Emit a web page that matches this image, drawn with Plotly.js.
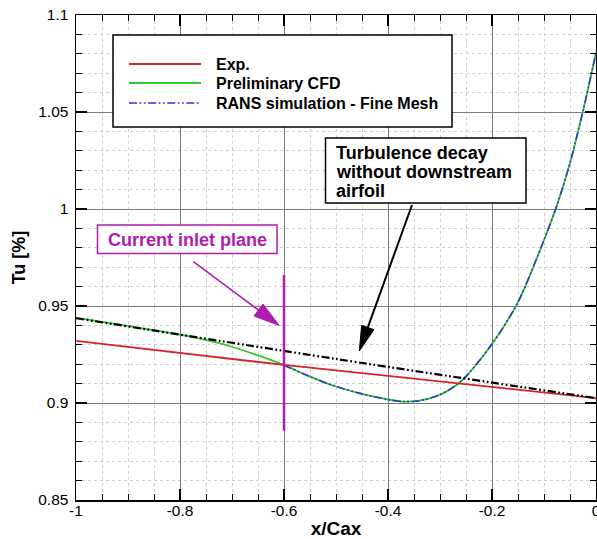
<!DOCTYPE html>
<html>
<head>
<meta charset="utf-8">
<script src="https://cdn.plot.ly/plotly-3.0.1.min.js"></script>
<style>html,body{margin:0;padding:0;background:#fff;}#chart{width:597px;height:539px;}</style>
</head>
<body>
<div id="chart"></div>
<script>
// ---------------- data ----------------
const expX = [-1, -0.8, -0.6, -0.4, -0.2, 0];
const expY = [0.9320, 0.9258, 0.9196, 0.9140, 0.9083, 0.9025];

const cfdX = [-1, -0.95, -0.9, -0.85, -0.8, -0.75, -0.7, -0.65, -0.6, -0.55, -0.5, -0.45, -0.4, -0.37, -0.34, -0.3, -0.26, -0.2, -0.15, -0.1, -0.075, -0.05, -0.025, 0];
const cfdY = [0.9440, 0.9418, 0.9397, 0.9375, 0.9352, 0.9325, 0.9290, 0.9245, 0.9195, 0.9136, 0.9085, 0.9047, 0.9018, 0.9007, 0.9012, 0.9043, 0.9111, 0.9304, 0.9520, 0.9840, 1.0020, 1.0237, 1.0506, 1.0805];

const ransX = [-0.6, -0.55, -0.5, -0.45, -0.4, -0.37, -0.34, -0.3, -0.26, -0.2, -0.15, -0.1, -0.075, -0.05, -0.025, 0];
const ransY = [0.9195, 0.9136, 0.9085, 0.9047, 0.9018, 0.9007, 0.9012, 0.9043, 0.9111, 0.9304, 0.9520, 0.9840, 1.0020, 1.0237, 1.0506, 1.0805];

const decayX = [-1, -0.5, 0];
const decayY = [0.9437, 0.9227, 0.9025];

const inletX = [-0.6, -0.6];
const inletY = [0.8857, 0.9660];

const xTickVals = [-1, -0.8, -0.6, -0.4, -0.2, 0];
const xTickText = ['-1', '-0.8', '-0.6', '-0.4', '-0.2', '0'];
const yTickVals = [0.85, 0.9, 0.95, 1, 1.05, 1.1];
const yTickText = ['0.85', '0.9', '0.95', '1', '1.05', '1.1'];

const seriesNames = ['Exp.', 'Preliminary CFD', 'RANS simulation - Fine Mesh'];
const decayLabel = ['Turbulence decay', 'without downstream', 'airfoil'];
const inletLabel = 'Current inlet plane';

// ---------------- style ----------------
const W = 597, H = 539;
const M = {l: 76, r: 1, t: 15, b: 39};
const PW = W - M.l - M.r, PH = H - M.t - M.b;
const fx = p => (p - M.l) / PW;          // pixel -> paper x
const fy = p => (H - M.b - p) / PH;      // pixel -> paper y
const FONT = '"Liberation Sans", Arial, Helvetica, sans-serif';
const RED = '#d8232a', GREEN = '#2ccc2c', BLUE = '#3535cf', BLACK = '#000000', MAG = '#b01cb0';
const DDD = '8px,2.5px,1.8px,2.5px,1.8px,2.5px';

const traces = [
  {x: cfdX, y: cfdY, name: seriesNames[1], mode: 'lines', line: {color: GREEN, width: 1.8, shape: 'spline', smoothing: 0.8}, showlegend: false},
  {x: ransX, y: ransY, name: seriesNames[2], mode: 'lines', line: {color: BLUE, width: 1.6, dash: DDD, shape: 'spline', smoothing: 0.8}, showlegend: false},
  {x: expX, y: expY, name: seriesNames[0], mode: 'lines', line: {color: RED, width: 1.8}, showlegend: false},
  {x: decayX, y: decayY, name: decayLabel.join(' '), mode: 'lines', line: {color: BLACK, width: 2.2, dash: DDD, shape: 'spline'}, showlegend: false},
  {x: inletX, y: inletY, name: inletLabel, mode: 'lines', line: {color: MAG, width: 2.5}, showlegend: false}
];

function rect(x0, y0, x1, y1, color, lw) {
  return {type: 'rect', xref: 'paper', yref: 'paper', x0: fx(x0), x1: fx(x1), y0: fy(y1), y1: fy(y0),
          line: {color: color, width: lw}, fillcolor: 'white', layer: 'above'};
}
function seg(x0, y0, x1, y1, color, lw, dash) {
  return {type: 'line', xref: 'paper', yref: 'paper', x0: fx(x0), x1: fx(x1), y0: fy(y0), y1: fy(y1),
          line: {color: color, width: lw, dash: dash || 'solid'}, layer: 'above'};
}
function arrow(sx, sy, tx, ty, L, Wd, color, lw) {
  const dx = tx - sx, dy = ty - sy, len = Math.hypot(dx, dy);
  const ux = dx / len, uy = dy / len;
  const bx = tx - ux * L, by = ty - uy * L;
  const nx = -uy, ny = ux;
  const p1 = [bx + nx * Wd / 2, by + ny * Wd / 2], p2 = [bx - nx * Wd / 2, by - ny * Wd / 2];
  const path = 'M' + fx(tx) + ',' + fy(ty) + 'L' + fx(p1[0]) + ',' + fy(p1[1]) + 'L' + fx(p2[0]) + ',' + fy(p2[1]) + 'Z';
  return [seg(sx, sy, bx + ux * 3, by + uy * 3, color, lw),
          {type: 'path', xref: 'paper', yref: 'paper', path: path, fillcolor: color, line: {color: color, width: 1}, layer: 'above'}];
}

const shapes = [
  rect(113, 35, 452, 127, BLACK, 1.5),
  seg(129, 64, 201, 64, RED, 1.8),
  seg(129, 83, 201, 83, GREEN, 1.8),
  seg(129, 103, 201, 103, BLUE, 1.6, DDD),
  rect(325.5, 138, 526, 203, BLACK, 1.5),
  rect(97.5, 225, 277, 253.5, MAG, 1.5),
  ...arrow(412, 205, 359.3, 351, 25, 13, BLACK, 2),
  ...arrow(193.3, 261.7, 279.3, 325.5, 26, 15, MAG, 1.5)
];

function txt(s, x, y, size, color, anchor) {
  return {text: s, xref: 'paper', yref: 'paper', x: fx(x), y: fy(y), xanchor: anchor || 'left', yanchor: 'middle',
          showarrow: false, font: {family: FONT, size: size, color: color, weight: 'bold'}};
}
const annotations = [
  txt(seriesNames[0], 214, 64.5, 16, BLACK),
  txt(seriesNames[1], 214, 83.5, 16, BLACK),
  txt(seriesNames[2], 214, 103.5, 16, BLACK),
  txt(decayLabel[0], 334, 153, 18, BLACK),
  txt(decayLabel[1], 334, 172, 18, BLACK),
  txt(decayLabel[2], 334, 191, 18, BLACK),
  txt(inletLabel, 187.3, 239.5, 18, MAG, 'center')
];

const axisCommon = {
  showline: true, linecolor: BLACK, linewidth: 1.5, mirror: 'allticks',
  ticks: 'inside', ticklen: 11, tickwidth: 1.5, tickcolor: BLACK,
  showgrid: true, gridcolor: '#7a7a7a', gridwidth: 1, zeroline: false,
  ticklabeloverflow: 'allow',
  tickfont: {family: FONT, size: 15.5, color: BLACK}
};

const layout = {
  width: W, height: H, margin: M, paper_bgcolor: 'white', plot_bgcolor: 'white',
  showlegend: false,
  xaxis: Object.assign({}, axisCommon, {
    range: [-1, 0], tickmode: 'array', tickvals: xTickVals, ticktext: xTickText,
    minor: {dtick: 0.05, ticks: 'inside', ticklen: 6, tickwidth: 1, tickcolor: BLACK, showgrid: true, gridcolor: '#cfcfcf', griddash: 'dot', gridwidth: 1},
    ticklabelstandoff: -4,
    title: {text: 'x/Cax', font: {family: FONT, size: 19, color: BLACK, weight: 'bold'}, standoff: 4}
  }),
  yaxis: Object.assign({}, axisCommon, {
    range: [0.85, 1.1], tickmode: 'array', tickvals: yTickVals, ticktext: yTickText,
    minor: {dtick: 0.01, ticks: 'inside', ticklen: 6, tickwidth: 1, tickcolor: BLACK, showgrid: true, gridcolor: '#cfcfcf', griddash: 'dot', gridwidth: 1},
    ticklabelstandoff: 3,
    title: {text: 'Tu [%]', font: {family: FONT, size: 18, color: BLACK, weight: 'bold'}, standoff: 8}
  }),
  shapes: shapes,
  annotations: annotations
};

Plotly.newPlot('chart', traces, layout, {staticPlot: true, displayModeBar: false});
</script>
</body>
</html>
